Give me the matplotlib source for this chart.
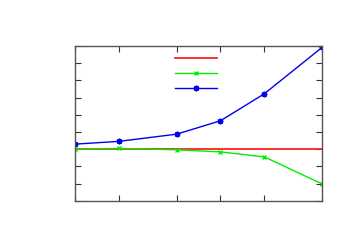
import matplotlib
matplotlib.use("Agg")
import matplotlib.pyplot as plt
from matplotlib.ticker import NullFormatter, FixedLocator, NullLocator

x_vals = [1, 2, 5, 10, 20, 50]
red_vals = [0, 0, 0, 0, 0, 0]
green_vals = [0.0, 0.04, -0.04, -0.16, -0.45, -2.03]
blue_vals = [0.29, 0.45, 0.87, 1.65, 3.22, 5.93]
y_ticks = [-3, -2, -1, 0, 1, 2, 3, 4, 5, 6]

fig = plt.figure(figsize=(3.5, 2.5), dpi=100)
ax = fig.add_axes([0.2134, 0.1972, 0.7075, 0.6188])

l1, = ax.plot(x_vals, red_vals, color="#ff2020", lw=1.3)
l2, = ax.plot(x_vals, green_vals, color="#00ee00", lw=1.0, marker="x", ms=3.5, mew=1.0)
l3, = ax.plot(x_vals, blue_vals, color="#0000ee", lw=1.0, marker=(8, 2, 0), ms=4, mew=1.2)

ax.set_xscale("log")
ax.set_xlim(1, 50)
ax.set_ylim(-3, 6)
ax.xaxis.set_major_locator(FixedLocator(x_vals))
ax.xaxis.set_minor_locator(NullLocator())
ax.yaxis.set_major_locator(FixedLocator(y_ticks))
ax.xaxis.set_major_formatter(NullFormatter())
ax.yaxis.set_major_formatter(NullFormatter())
ax.tick_params(which="both", direction="in", length=4, width=0.8, color="#333333",
               top=True, right=True)
for s in ax.spines.values():
    s.set_color("#555555")
    s.set_linewidth(1.0)

ax.legend([l1, l2, l3], ["", "", ""], loc="upper left",
          bbox_to_anchor=(0.405, 0.965), frameon=False, borderpad=0,
          handlelength=3.0, handletextpad=0, labelspacing=0.1,
          borderaxespad=0, fontsize=10)

fig.savefig("out.png", dpi=100)
